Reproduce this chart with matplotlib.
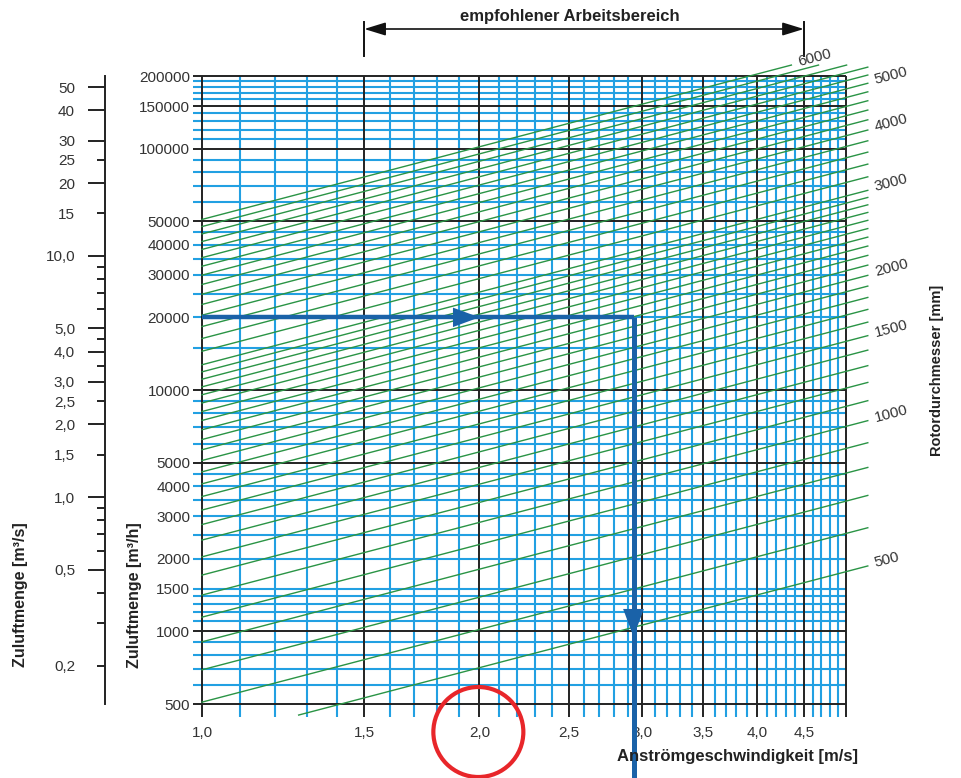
import math
import matplotlib
matplotlib.use("Agg")
import matplotlib.pyplot as plt
from matplotlib import font_manager, transforms
from matplotlib.patches import Ellipse
from matplotlib.ticker import NullLocator

# ---------------------------------------------------------------- data
# face velocity axis [m/s]
v_range = (1.0, 5.0)
v_major = [1.0, 1.5, 2.0, 2.5, 3.0, 3.5, 4.0, 4.5, 5.0]
v_minor = [1.1, 1.2, 1.3, 1.4, 1.6, 1.7, 1.8, 1.9,
           2.1, 2.2, 2.3, 2.4, 2.6, 2.7, 2.8, 2.9,
           3.1, 3.2, 3.3, 3.4, 3.6, 3.7, 3.8, 3.9,
           4.1, 4.2, 4.3, 4.4, 4.6, 4.7, 4.8, 4.9]
v_ticks = [1.0, 1.5, 2.0, 2.5, 3.0, 3.5, 4.0, 4.5]
v_labels = ["1,0", "1,5", "2,0", "2,5", "3,0", "3,5", "4,0", "4,5"]

# supply air volume axis [m3/h]
q_range = (500, 200000)
q_major = [500, 1000, 5000, 10000, 50000, 100000, 150000, 200000]
q_minor = [600, 700, 800, 900, 1100, 1200, 1300, 1400, 1500,
           2000, 2500, 3000, 3500, 4000, 4500,
           6000, 7000, 8000, 9000,
           15000, 20000, 25000, 30000, 35000, 40000, 45000,
           60000, 70000, 80000, 90000, 110000, 120000, 130000, 140000,
           160000, 170000, 180000, 190000]
q_ticks = [500, 1000, 1500, 2000, 3000, 4000, 5000, 10000, 20000, 30000,
           40000, 50000, 100000, 150000, 200000]
q_labels = ["500", "1000", "1500", "2000", "3000", "4000", "5000", "10000",
            "20000", "30000", "40000", "50000", "100000", "150000", "200000"]

# supply air volume axis [m3/s]
qs_long = [50, 40, 30, 20, 10, 5, 4, 3, 2, 1, 0.5]
qs_long_labels = ["50", "40", "30", "20", "10,0", "5,0", "4,0", "3,0",
                  "2,0", "1,0", "0,5"]
qs_short = [25, 15, 9, 8, 7, 6, 4.5, 3.5, 2.5, 1.5, 0.9, 0.8, 0.7, 0.6,
            0.4, 0.3, 0.2]
qs_short_labels = ["25", "15", "", "", "", "", "", "", "2,5", "1,5",
                   "", "", "", "", "", "", "0,2"]

# rotor diameters [mm]
rotor_d = [500, 600, 700, 800, 900, 1000, 1100, 1200, 1300, 1400, 1500,
           1600, 1700, 1800, 1900, 2000, 2100, 2200, 2300, 2400, 2500,
           2600, 2700, 2800, 2900, 3000, 3200, 3400, 3600, 3800, 4000,
           4200, 4400, 4600, 4800, 5000, 5200, 5400, 5600, 5800, 6000]
rotor_labelled = [500, 1000, 1500, 2000, 3000, 4000, 5000, 6000]

# example selection
sel_q = 20000
sel_v = 2.94
sel_head_h = 2.0
sel_head_v = (1300, 950)

# recommended working range
work_range = (1.5, 4.5)

# ---------------------------------------------------------------- style
names = {f.name for f in font_manager.fontManager.ttflist}
REG = "Liberation Sans" if "Liberation Sans" in names else "DejaVu Sans"
BOLD = dict(family=REG, weight="bold")
plt.rcParams["font.family"] = REG

TXT = "#333333"
BLUE = "#22a0e2"
BLACK = "#222222"
GREEN = "#2a9445"
ARROW = "#1a62a8"

W, H = 961, 778
L, R, T, B = 202, 846, 76, 704
fig = plt.figure(figsize=(W / 100, H / 100), dpi=100)
ax = fig.add_axes([L / W, 1 - B / H, (R - L) / W, (B - T) / H])
ax.set_xscale("log")
ax.set_yscale("log")
ax.set_xlim(*v_range)
ax.set_ylim(*q_range)
for s in ax.spines.values():
    s.set_visible(False)

ax.xaxis.set_minor_locator(NullLocator())
ax.yaxis.set_minor_locator(NullLocator())
ax.set_xticks(v_ticks, v_labels)
ax.set_yticks(q_ticks, q_labels)
ax.tick_params(axis="x", length=0, pad=16, labelsize=11, labelcolor=TXT)
ax.tick_params(axis="y", length=0, pad=8.5, labelsize=11, labelcolor=TXT)

# grid lines, running a little past the frame like tick marks
px_w, px_h = (R - L), (B - T)
ext_l = -9 / px_w
ext_b = -13 / px_h
tx = transforms.blended_transform_factory(ax.transData, ax.transAxes)
ty = transforms.blended_transform_factory(ax.transAxes, ax.transData)
for v in v_minor:
    ax.plot([v, v], [ext_b, 1], transform=tx, color=BLUE, lw=1.5,
            clip_on=False, zorder=1, solid_capstyle="butt")
for q in q_minor:
    ax.plot([ext_l, 1], [q, q], transform=ty, color=BLUE, lw=1.5,
            clip_on=False, zorder=1, solid_capstyle="butt")
for v in v_major:
    ax.plot([v, v], [ext_b, 1], transform=tx, color=BLACK, lw=1.4,
            clip_on=False, zorder=2, solid_capstyle="butt")
for q in q_major:
    ax.plot([ext_l, 1], [q, q], transform=ty, color=BLACK, lw=1.4,
            clip_on=False, zorder=2, solid_capstyle="butt")

# rotor diameter lines: half the rotor face carries the supply air
c = math.pi / 8 * 3600 / 1e6
q_lo, q_hi, v_hi = 450, 222000, 5.28
p0 = ax.transData.transform((1, 1000))
p1 = ax.transData.transform((2, 2000))
ang = math.degrees(math.atan2(p1[1] - p0[1], p1[0] - p0[0]))
for d in rotor_d:
    k = c * d * d
    va = max(v_range[0], q_lo / k)
    vb = min(v_hi, q_hi / k)
    ax.plot([va, vb], [k * va, k * vb], color=GREEN, lw=1.0,
            clip_on=False, zorder=3)
    if d in rotor_labelled:
        ax.annotate(str(d), xy=(vb, k * vb), xytext=(5, 2),
                    textcoords="offset points", rotation=ang,
                    rotation_mode="anchor", ha="left", va="center",
                    fontsize=11, color=TXT, annotation_clip=False)

# example: flow -> velocity
ax.plot([v_range[0], sel_v], [sel_q, sel_q], color=ARROW, lw=3.2,
        solid_capstyle="butt", zorder=5, clip_on=False)
ax.plot([sel_v, sel_v], [sel_q, 240], color=ARROW, lw=3.6,
        solid_capstyle="butt", zorder=5, clip_on=False)
ax.annotate("", xy=(sel_head_h, sel_q), xytext=(sel_head_h / 1.07, sel_q),
            arrowprops=dict(arrowstyle="-|>,head_length=1.9,head_width=0.7",
                            color=ARROW, lw=0, shrinkA=0, shrinkB=0),
            zorder=6)
ax.annotate("", xy=(sel_v, sel_head_v[1]), xytext=(sel_v, sel_head_v[0]),
            arrowprops=dict(arrowstyle="-|>,head_length=2.0,head_width=0.75",
                            color=ARROW, lw=0, shrinkA=0, shrinkB=0),
            zorder=6, annotation_clip=False)

# secondary scale in m3/s
ax2 = ax.twinx()
ax2.set_yscale("log")
ax2.set_ylim(q_range[0] / 3600, q_range[1] / 3600)
for s in ("right", "top", "bottom"):
    ax2.spines[s].set_visible(False)
ax2.spines["left"].set_visible(True)
ax2.spines["left"].set_position(("outward", 97 * 0.72))
ax2.spines["left"].set_linewidth(1.4)
ax2.spines["left"].set_color(BLACK)
ax2.yaxis.set_ticks_position("left")
ax2.set_yticks(qs_long, qs_long_labels)
ax2.set_yticks(qs_short, qs_short_labels, minor=True)
ax2.tick_params(axis="y", which="major", length=17 * 0.72, width=1.4,
                pad=13 * 0.72, labelsize=11, labelcolor=TXT, color=BLACK)
ax2.tick_params(axis="y", which="minor", length=8 * 0.72, width=1.4,
                pad=22 * 0.72, labelsize=11, labelcolor=TXT, color=BLACK)

# axis titles
fig.text(21 / W, 1 - 595 / H, "Zuluftmenge [m³/s]", rotation=90,
         ha="center", va="center", fontsize=11.5, color="#222222", **BOLD)
fig.text(135 / W, 1 - 595 / H, "Zuluftmenge [m³/h]", rotation=90,
         ha="center", va="center", fontsize=11.5, color="#222222", **BOLD)
fig.text(858 / W, 1 - 757 / H, "Anströmgeschwindigkeit [m/s]",
         ha="right", va="center", fontsize=12, color="#222222", **BOLD)
fig.text(937 / W, 1 - 370 / H, "Rotordurchmesser [mm]", rotation=90,
         ha="center", va="center", fontsize=10.5, color="#222222", **BOLD)

# recommended working range
tf = transforms.blended_transform_factory(ax.transData, fig.transFigure)
y_arr = 1 - 29 / H
ax.annotate("", xy=(work_range[0], y_arr), xytext=(work_range[1], y_arr),
            xycoords=tf, textcoords=tf,
            arrowprops=dict(arrowstyle="<|-|>,head_length=1.3,head_width=0.4",
                            color="#111111", lw=1.2, shrinkA=0, shrinkB=0),
            annotation_clip=False)
for v in work_range:
    ax.plot([v, v], [1 - 22 / H, 1 - 56 / H], transform=tf, color="#111111",
            lw=1.4, clip_on=False)
fig.text(570 / W, 1 - 17 / H, "empfohlener Arbeitsbereich", ha="center",
         va="center", fontsize=12, color="#222222", **BOLD)

# highlight ring round the 2,0 label
cx = ax.transData.transform((2.0, q_range[0]))[0]
ring = Ellipse((cx - 1, H - 732), 90, 90, transform=transforms.IdentityTransform(),
               fill=False, edgecolor="#e8262a", lw=3.0, zorder=10)
fig.add_artist(ring)

fig.savefig("out.png", dpi=100)
